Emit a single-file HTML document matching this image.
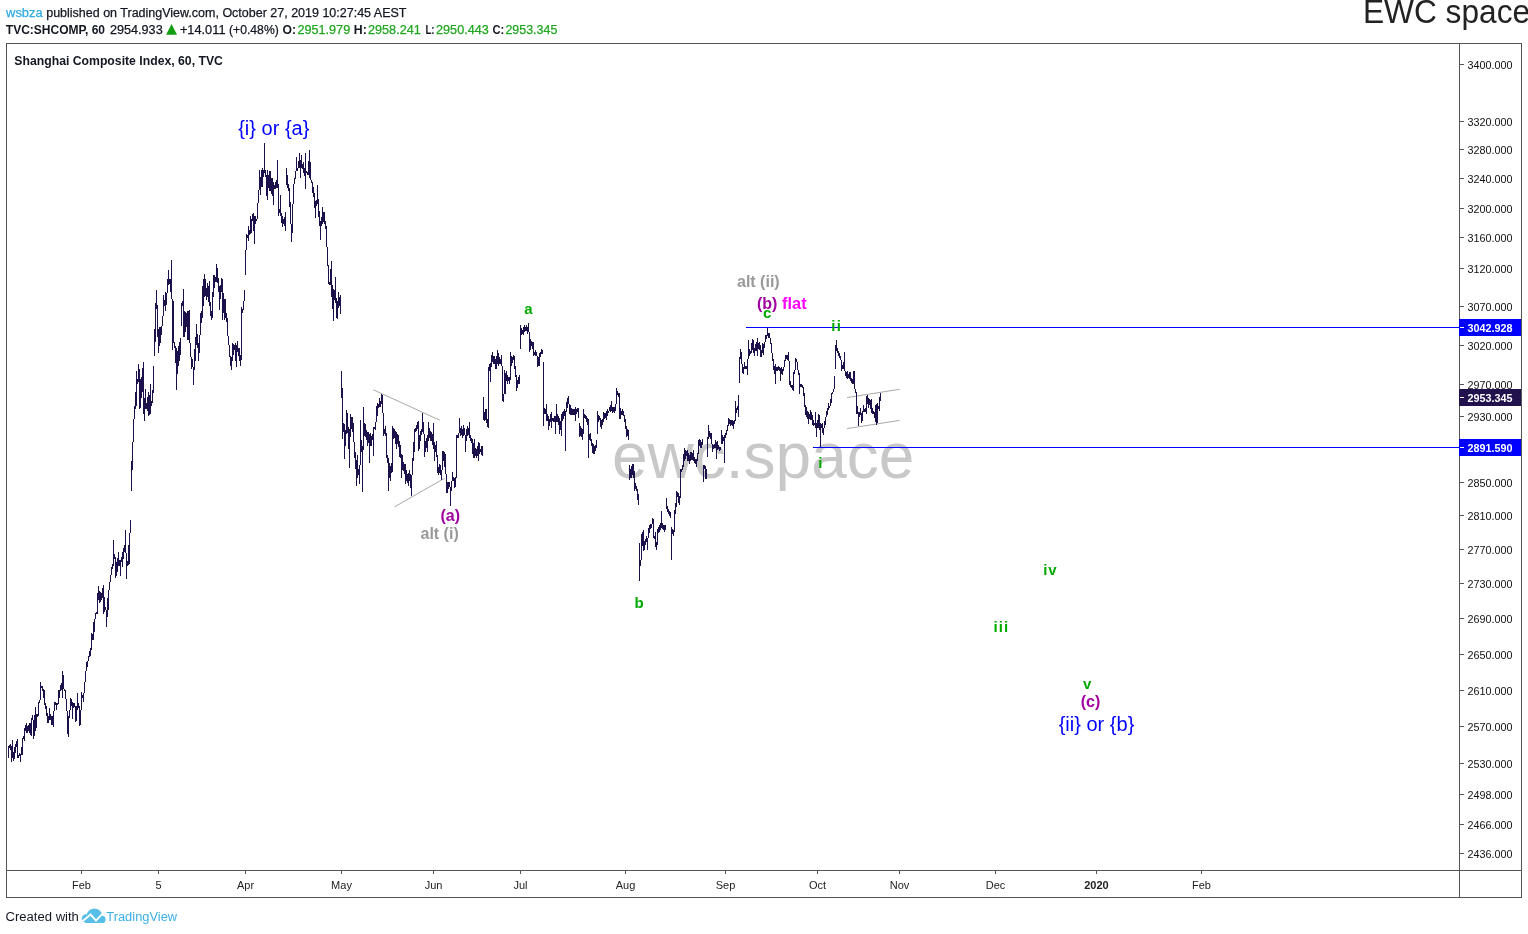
<!DOCTYPE html>
<html><head><meta charset="utf-8">
<style>
html,body{margin:0;padding:0;background:#fff;width:1528px;height:934px;overflow:hidden}
svg{position:absolute;left:0;top:0;font-family:"Liberation Sans",sans-serif;will-change:transform}
</style></head><body>
<svg width="1528" height="934" viewBox="0 0 1528 934">
<!-- header -->
<g font-size="12.5" fill="#131722" stroke="#131722" stroke-width="0.25">
<text x="6.1" y="16.9" stroke="#2eaae0" fill="#2eaae0" textLength="36.6" lengthAdjust="spacingAndGlyphs">wsbza</text>
<text x="46.2" y="16.9" textLength="360.3" lengthAdjust="spacingAndGlyphs">published on TradingView.com, October 27, 2019 10:27:45 AEST</text>
</g>
<g font-size="12.4" fill="#131722" stroke-width="0.25">
<text x="5.8" y="33.7" font-weight="bold" font-size="12.2" textLength="99.2" lengthAdjust="spacingAndGlyphs">TVC:SHCOMP, 60</text>
<text stroke="#131722" x="109.9" y="33.7" textLength="52.8" lengthAdjust="spacingAndGlyphs">2954.933</text>
<path d="M166.1 34.7L171.55 23.9L177 34.7Z" fill="#119e11"/>
<text stroke="#131722" x="179.9" y="33.7" textLength="45.6" lengthAdjust="spacingAndGlyphs">+14.011</text>
<text stroke="#131722" x="229" y="33.7" textLength="49.8" lengthAdjust="spacingAndGlyphs">(+0.48%)</text>
<text x="282.5" y="33.7" font-weight="bold" textLength="13.5" lengthAdjust="spacingAndGlyphs">O:</text>
<text stroke="#1fa61f" x="297.4" y="33.7" fill="#1fa61f" textLength="52.8" lengthAdjust="spacingAndGlyphs">2951.979</text>
<text x="353.8" y="33.7" font-weight="bold" textLength="13" lengthAdjust="spacingAndGlyphs">H:</text>
<text stroke="#1fa61f" x="368" y="33.7" fill="#1fa61f" textLength="52.8" lengthAdjust="spacingAndGlyphs">2958.241</text>
<text x="425.4" y="33.7" font-weight="bold" textLength="9.2" lengthAdjust="spacingAndGlyphs">L:</text>
<text stroke="#1fa61f" x="436.1" y="33.7" fill="#1fa61f" textLength="52.6" lengthAdjust="spacingAndGlyphs">2950.443</text>
<text x="492.5" y="33.7" font-weight="bold" textLength="11.8" lengthAdjust="spacingAndGlyphs">C:</text>
<text stroke="#1fa61f" x="505.4" y="33.7" fill="#1fa61f" textLength="52" lengthAdjust="spacingAndGlyphs" textLength="45" lengthAdjust="spacingAndGlyphs">2953.345</text>
</g>
<text transform="translate(1363,22.7) scale(0.945,1)" font-size="33.5" fill="#222">EWC space</text>

<!-- watermark -->
<text x="612" y="478.3" font-size="64" fill="#c8c8c8">ewc.space</text>

<!-- frame -->
<g stroke="#555" stroke-width="1" fill="none" shape-rendering="crispEdges">
<rect x="6.5" y="43.5" width="1515" height="854"/>
<path d="M1459.5 43V897M6 870.5H1521"/>
<path d="M1460 64.5H1464M1460 121.5H1464M1460 149.5H1464M1460 178.5H1464M1460 208.5H1464M1460 237.5H1464M1460 268.5H1464M1460 306.5H1464M1460 345.5H1464M1460 384.5H1464M1460 416.5H1464M1460 482.5H1464M1460 515.5H1464M1460 549.5H1464M1460 583.5H1464M1460 618.5H1464M1460 654.5H1464M1460 690.5H1464M1460 726.5H1464M1460 763.5H1464M1460 794.5H1464M1460 824.5H1464M1460 853.5H1464"/>
<path d="M81.5 871V874M158.5 871V874M245.5 871V874M341.5 871V874M433.5 871V874M520.5 871V874M625.5 871V874M725.5 871V874M817.5 871V874M899.5 871V874M995.5 871V874M1096.5 871V874M1201.5 871V874"/>
</g>
<text x="14.3" y="65.1" font-size="13" font-weight="bold" fill="#131722" textLength="208.6" lengthAdjust="spacingAndGlyphs">Shanghai Composite Index, 60, TVC</text>

<!-- price axis labels -->
<g font-size="11" fill="#111"><text x="1467.6" y="69.0" textLength="45" lengthAdjust="spacingAndGlyphs">3400.000</text><text x="1467.6" y="126.0" textLength="45" lengthAdjust="spacingAndGlyphs">3320.000</text><text x="1467.6" y="154.0" textLength="45" lengthAdjust="spacingAndGlyphs">3280.000</text><text x="1467.6" y="183.0" textLength="45" lengthAdjust="spacingAndGlyphs">3240.000</text><text x="1467.6" y="213.0" textLength="45" lengthAdjust="spacingAndGlyphs">3200.000</text><text x="1467.6" y="242.0" textLength="45" lengthAdjust="spacingAndGlyphs">3160.000</text><text x="1467.6" y="273.0" textLength="45" lengthAdjust="spacingAndGlyphs">3120.000</text><text x="1467.6" y="311.0" textLength="45" lengthAdjust="spacingAndGlyphs">3070.000</text><text x="1467.6" y="350.0" textLength="45" lengthAdjust="spacingAndGlyphs">3020.000</text><text x="1467.6" y="389.0" textLength="45" lengthAdjust="spacingAndGlyphs">2970.000</text><text x="1467.6" y="421.0" textLength="45" lengthAdjust="spacingAndGlyphs">2930.000</text><text x="1467.6" y="487.0" textLength="45" lengthAdjust="spacingAndGlyphs">2850.000</text><text x="1467.6" y="520.0" textLength="45" lengthAdjust="spacingAndGlyphs">2810.000</text><text x="1467.6" y="554.0" textLength="45" lengthAdjust="spacingAndGlyphs">2770.000</text><text x="1467.6" y="588.0" textLength="45" lengthAdjust="spacingAndGlyphs">2730.000</text><text x="1467.6" y="623.0" textLength="45" lengthAdjust="spacingAndGlyphs">2690.000</text><text x="1467.6" y="659.0" textLength="45" lengthAdjust="spacingAndGlyphs">2650.000</text><text x="1467.6" y="695.0" textLength="45" lengthAdjust="spacingAndGlyphs">2610.000</text><text x="1467.6" y="731.0" textLength="45" lengthAdjust="spacingAndGlyphs">2570.000</text><text x="1467.6" y="768.0" textLength="45" lengthAdjust="spacingAndGlyphs">2530.000</text><text x="1467.6" y="799.0" textLength="45" lengthAdjust="spacingAndGlyphs">2498.000</text><text x="1467.6" y="829.0" textLength="45" lengthAdjust="spacingAndGlyphs">2466.000</text><text x="1467.6" y="858.0" textLength="45" lengthAdjust="spacingAndGlyphs">2436.000</text></g>
<!-- time labels -->
<g font-size="11" fill="#222" text-anchor="middle"><text x="81.5" y="889">Feb</text><text x="158.5" y="889">5</text><text x="245.5" y="889">Apr</text><text x="341.5" y="889">May</text><text x="433.5" y="889">Jun</text><text x="520.5" y="889">Jul</text><text x="625.5" y="889">Aug</text><text x="725.5" y="889">Sep</text><text x="817.5" y="889">Oct</text><text x="899.5" y="889">Nov</text><text x="995.5" y="889">Dec</text><text x="1096.5" y="889" font-weight="bold">2020</text><text x="1201.5" y="889">Feb</text></g>

<!-- gray drawings -->
<g stroke="#a8a8a8" stroke-width="1" fill="none">
<path d="M373.4 389.8L439.8 420.2M394.6 506.8L444.7 478.2M847.1 397.6L899.6 389.3M847.1 428.6L899.6 420.4"/>
</g>

<!-- price -->
<path d="M8.5 746.2V757.5M9.5 744.6V747.8M10.5 743.6V749.5M11.5 746.2V762.3M12.5 740.3V757.5M13.5 752.1V760.7M14.5 746.8V758.6M15.5 744.1V752.7M16.5 741.4V746.8M17.5 739.3V757.5M18.5 754.8V757.5M19.5 753.2V756.4M20.5 753.7V761.8M21.5 747.3V754.8M22.5 738.2V754.8M23.5 735.5V738.7M24.5 728.0V741.4M25.5 725.4V730.7M26.5 723.2V733.4M27.5 725.9V733.4M28.5 725.4V730.7M29.5 723.2V733.4M30.5 723.2V735.0M31.5 718.0V735.5M32.5 715.0V720.0M33.5 720.0V738.7M34.5 714.8V735.6M35.5 707.0V731.0M36.5 713.9V728.4M37.5 713.9V717.3M38.5 701.9V716.4M39.5 700.1V702.7M40.5 682.1V700.1M41.5 685.6V688.1M42.5 686.4V690.7M43.5 689.0V697.6M44.5 689.9V705.3M45.5 702.7V708.7M46.5 706.1V715.6M47.5 713.0V723.3M48.5 716.4V723.3M49.5 707.9V719.9M50.5 713.9V719.9M51.5 716.4V725.0M52.5 716.4V725.0M53.5 711.3V726.7M54.5 701.9V711.3M55.5 701.9V705.3M56.5 702.7V709.6M57.5 702.7V705.3M58.5 689.9V703.6M59.5 689.9V697.6M60.5 684.7V690.7M61.5 683.0V689.9M62.5 671.0V698.4M63.5 675.3V689.0M64.5 689.0V690.7M65.5 689.9V699.3M66.5 699.3V710.5M67.5 710.5V733.6M68.5 715.6V737.0M69.5 709.6V718.1M70.5 697.6V709.6M71.5 699.3V706.1M72.5 701.9V719.0M73.5 702.7V707.9M74.5 702.7V707.0M75.5 706.1V721.6M76.5 706.1V720.7M77.5 693.3V709.6M78.5 702.7V707.9M79.5 706.1V725.9M80.5 709.5V725.0M81.5 692.0V709.5M82.5 694.5V697.5M83.5 693.0V702.0M84.5 681.5V693.0M85.5 671.2V681.5M86.5 662.0V671.2M87.5 661.0V666.7M88.5 655.5V661.0M89.5 651.1V657.0M90.5 648.0V655.5M91.5 632.6V649.5M92.5 633.8V640.0M93.5 622.0V640.0M94.5 618.8V631.5M95.5 613.0V618.8M96.5 612.0V613.5M97.5 593.0V614.0M98.5 586.0V600.0M99.5 591.0V603.0M100.5 592.0V601.5M101.5 593.0V600.0M102.5 588.0V598.0M103.5 584.6V614.0M104.5 597.4V611.7M105.5 607.0V610.0M106.5 610.0V627.0M107.5 598.3V617.1M108.5 590.0V610.0M109.5 582.0V590.0M110.5 575.0V582.0M111.5 567.0V575.0M112.5 564.0V569.0M113.5 540.0V566.0M114.5 554.0V559.0M115.5 557.0V578.0M116.5 562.0V576.0M117.5 557.7V571.7M118.5 552.0V566.0M119.5 560.0V566.0M120.5 560.0V576.0M121.5 557.0V562.0M122.5 552.0V567.0M123.5 548.2V558.8M124.5 545.0V552.0M125.5 530.0V553.0M126.5 553.0V578.6M127.5 560.6V566.0M128.5 544.8V564.9M129.5 533.0V564.0M130.5 520.0V533.0M131.5 461.0V491.0M132.5 441.5V470.0M133.5 419.0V441.5M134.5 406.0V419.0M135.5 392.0V409.0M136.5 371.0V406.0M137.5 379.0V384.0M138.5 364.0V382.0M139.5 369.0V409.0M140.5 379.0V408.0M141.5 377.0V398.0M142.5 368.0V392.0M143.5 362.0V414.0M144.5 398.0V421.0M145.5 388.5V409.0M146.5 403.0V409.0M147.5 396.6V411.0M148.5 392.0V416.0M149.5 395.3V414.9M150.5 384.0V414.0M151.5 401.0V406.0M152.5 390.0V403.0M153.5 366.0V393.0M154.5 329.0V356.0M155.5 303.0V342.0M156.5 290.0V309.0M157.5 305.0V337.0M158.5 329.0V353.0M159.5 327.0V346.0M160.5 327.0V343.0M161.5 325.5V335.0M162.5 316.0V325.5M163.5 295.0V316.0M164.5 300.0V306.0M165.5 292.0V311.0M166.5 292.5V305.0M167.5 279.0V292.5M168.5 270.0V285.0M169.5 279.0V284.0M170.5 279.0V292.0M171.5 260.0V299.0M172.5 299.0V350.0M173.5 301.0V343.0M174.5 342.0V348.0M175.5 346.0V362.5M176.5 348.0V390.0M177.5 350.7V374.4M178.5 346.0V366.0M179.5 342.3V360.7M180.5 338.0V354.5M181.5 303.0V325.5M182.5 301.0V306.0M183.5 288.6V337.0M184.5 311.0V337.0M185.5 311.8V332.4M186.5 312.7V327.0M187.5 311.0V340.0M188.5 311.0V340.0M189.5 309.5V343.0M190.5 343.0V357.0M191.5 357.0V369.0M192.5 359.0V366.5M193.5 366.5V385.0M194.5 348.5V370.2M195.5 337.0V361.0M196.5 324.0V345.0M197.5 333.6V348.0M198.5 343.0V361.0M199.5 334.5V353.0M200.5 313.0V334.5M201.5 311.2V323.4M202.5 286.0V318.0M203.5 279.3V306.1M204.5 273.7V297.0M205.5 279.0V296.0M206.5 287.6V300.0M207.5 283.0V297.0M208.5 286.0V301.5M209.5 280.6V305.7M210.5 301.5V315.5M211.5 311.0V319.6M212.5 292.0V318.0M213.5 275.0V297.0M214.5 275.0V287.6M215.5 276.5V282.0M216.5 264.0V282.0M217.5 268.0V283.0M218.5 278.0V292.0M219.5 286.0V310.0M220.5 285.0V299.0M221.5 278.0V292.0M222.5 279.0V319.6M223.5 293.0V312.7M224.5 298.7V319.6M225.5 298.7V318.0M226.5 312.7V322.0M227.5 318.0V336.0M228.5 336.0V344.7M229.5 344.7V357.0M230.5 356.0V365.6M231.5 357.0V370.0M232.5 343.0V361.0M233.5 343.9V355.0M234.5 344.7V350.0M235.5 343.0V361.0M236.5 344.7V367.0M237.5 340.5V351.7M238.5 347.5V356.0M239.5 347.5V361.0M240.5 354.5V365.6M241.5 307.0V360.0M242.5 308.5V312.7M243.5 301.0V310.0M244.5 290.0V301.0M245.5 249.5V275.0M246.5 234.0V249.5M247.5 235.0V238.0M248.5 225.5V241.0M249.5 229.7V235.0M250.5 216.0V234.0M251.5 218.6V232.5M252.5 214.0V221.0M253.5 213.0V231.0M254.5 216.0V243.6M255.5 216.0V224.0M256.5 218.6V221.0M257.5 203.0V218.6M258.5 190.0V203.0M259.5 170.0V190.0M260.5 177.0V195.0M261.5 170.0V186.5M262.5 168.0V186.5M263.5 170.0V177.0M264.5 143.0V172.6M265.5 170.0V177.0M266.5 175.0V196.0M267.5 170.0V200.0M268.5 175.0V188.0M269.5 171.0V190.7M270.5 171.0V190.7M271.5 177.5V193.6M272.5 178.0V196.0M273.5 182.0V204.6M274.5 185.0V189.0M275.5 182.0V189.0M276.5 179.6V188.0M277.5 160.0V188.0M278.5 184.0V216.0M279.5 209.0V213.0M280.5 195.0V216.0M281.5 213.0V222.7M282.5 216.0V227.0M283.5 218.6V224.0M284.5 217.0V225.5M285.5 211.6V231.0M286.5 168.0V185.0M287.5 175.0V188.0M288.5 184.0V190.7M289.5 188.0V207.0M290.5 202.0V224.0M291.5 224.0V242.0M292.5 203.8V232.5M293.5 184.2V203.8M294.5 177.6V184.2M295.5 170.6V179.0M296.5 156.7V170.6M297.5 168.0V170.6M298.5 161.0V168.0M299.5 153.0V168.0M300.5 159.5V177.6M301.5 155.0V168.0M302.5 163.7V169.0M303.5 162.0V173.0M304.5 168.0V176.0M305.5 153.0V189.0M306.5 170.6V173.0M307.5 172.0V175.0M308.5 161.0V175.0M309.5 150.0V177.6M310.5 162.0V180.0M311.5 180.0V183.0M312.5 181.8V193.0M313.5 187.0V197.0M314.5 193.0V208.0M315.5 201.0V218.0M316.5 200.0V205.5M317.5 184.6V204.0M318.5 198.5V216.6M319.5 211.0V226.0M320.5 220.8V240.0M321.5 216.6V226.0M322.5 207.0V223.6M323.5 212.4V222.0M324.5 212.4V223.6M325.5 220.8V229.0M326.5 226.0V246.5M327.5 246.5V266.0M328.5 264.5V283.7M329.5 282.0V285.0M330.5 269.0V285.0M331.5 261.0V296.6M332.5 285.0V309.4M333.5 288.6V320.7M334.5 290.0V300.0M335.5 277.0V303.0M336.5 298.0V317.5M337.5 301.4V319.0M338.5 291.8V307.8M339.5 296.6V306.0M340.5 295.0V314.0M341.5 370.8V398.0M342.5 388.0V438.7M343.5 423.0V431.5M344.5 424.0V459.0M345.5 430.0V446.0M346.5 410.0V434.4M347.5 412.7V433.0M348.5 427.0V449.0M349.5 428.6V467.6M350.5 414.0V437.0M351.5 417.0V428.6M352.5 417.0V431.5M353.5 423.0V441.7M354.5 441.7V457.5M355.5 451.7V469.0M356.5 460.0V486.4M357.5 454.6V477.8M358.5 469.0V475.0M359.5 464.8V483.5M360.5 420.0V464.8M361.5 440.0V451.7M362.5 446.0V492.0M363.5 407.0V450.0M364.5 423.0V435.8M365.5 424.0V437.0M366.5 430.0V440.0M367.5 431.5V446.0M368.5 431.5V443.0M369.5 434.4V463.0M370.5 433.0V446.0M371.5 436.0V446.0M372.5 434.4V440.0M373.5 427.0V456.0M374.5 427.0V428.6M375.5 422.0V430.0M376.5 405.5V422.0M377.5 402.6V415.6M378.5 404.0V408.0M379.5 398.0V407.0M380.5 401.0V407.0M381.5 394.0V404.0M382.5 395.0V412.7M383.5 412.7V436.0M384.5 428.6V434.4M385.5 425.7V436.0M386.5 433.0V457.5M387.5 454.6V463.0M388.5 457.5V490.8M389.5 463.0V477.8M390.5 466.0V480.7M391.5 463.0V473.0M392.5 425.7V472.0M393.5 427.7V439.3M394.5 429.0V437.8M395.5 430.6V443.6M396.5 432.0V449.4M397.5 433.5V443.6M398.5 435.0V446.5M399.5 440.7V456.6M400.5 445.0V458.0M401.5 453.7V478.3M402.5 455.0V469.6M403.5 462.4V471.0M404.5 463.9V474.0M405.5 463.9V484.0M406.5 469.6V481.2M407.5 474.0V482.6M408.5 472.5V485.5M409.5 469.6V481.2M410.5 474.0V488.4M411.5 475.4V495.7M412.5 458.0V475.4M413.5 442.0V461.0M414.5 429.0V452.3M415.5 427.7V432.0M416.5 424.8V430.6M417.5 422.0V429.0M418.5 420.5V450.8M419.5 435.0V449.4M420.5 430.6V440.7M421.5 429.0V435.0M422.5 412.5V432.0M423.5 422.0V434.2M424.5 434.2V456.6M425.5 440.7V452.3M426.5 437.8V448.0M427.5 435.0V452.3M428.5 422.0V440.7M429.5 427.7V437.8M430.5 430.6V440.7M431.5 432.0V440.7M432.5 433.5V445.0M433.5 423.4V449.4M434.5 442.0V461.0M435.5 445.0V452.3M436.5 440.7V456.6M437.5 455.0V472.5M438.5 466.7V475.4M439.5 463.9V472.5M440.5 465.3V475.4M441.5 469.6V479.8M442.5 450.8V469.6M443.5 450.8V461.0M444.5 452.3V466.7M445.5 453.5V473.8M446.5 473.8V492.5M447.5 482.4V492.5M448.5 482.4V489.3M449.5 482.4V486.7M450.5 486.7V505.5M451.5 481.0V491.0M452.5 472.3V481.0M453.5 476.6V481.0M454.5 478.0V488.0M455.5 476.6V486.7M456.5 434.7V478.0M457.5 434.7V437.6M458.5 433.3V437.6M459.5 418.0V433.3M460.5 427.5V436.0M461.5 426.0V434.7M462.5 429.0V437.6M463.5 424.6V436.0M464.5 427.5V435.4M465.5 435.4V452.0M466.5 429.0V440.5M467.5 426.0V436.0M468.5 427.5V434.7M469.5 421.7V437.6M470.5 434.7V440.5M471.5 437.6V443.4M472.5 439.0V453.5M473.5 443.4V457.8M474.5 439.0V457.8M475.5 447.7V456.4M476.5 449.0V457.8M477.5 446.3V456.4M478.5 442.0V460.7M479.5 443.4V453.5M480.5 449.0V452.0M481.5 446.3V455.0M482.5 446.3V456.4M483.5 397.0V420.0M484.5 411.6V421.4M485.5 408.8V420.0M486.5 408.8V422.8M487.5 418.6V427.0M488.5 367.0V428.3M489.5 364.3V371.3M490.5 363.0V382.4M491.5 354.5V367.0M492.5 351.8V361.5M493.5 356.0V364.3M494.5 356.0V364.3M495.5 358.7V368.5M496.5 356.0V368.5M497.5 350.4V364.3M498.5 353.0V365.7M499.5 357.3V364.3M500.5 358.7V364.3M501.5 354.5V366.4M502.5 366.4V400.5M503.5 394.1V402.0M504.5 370.0V394.1M505.5 372.6V393.5M506.5 371.3V381.0M507.5 375.4V383.8M508.5 376.8V381.0M509.5 376.8V383.8M510.5 351.8V379.6M511.5 356.0V365.7M512.5 357.3V363.0M513.5 354.5V360.0M514.5 356.0V368.5M515.5 365.7V376.8M516.5 375.4V390.7M517.5 379.6V388.0M518.5 376.8V383.8M519.5 375.4V383.8M520.5 325.3V349.0M521.5 328.0V335.0M522.5 329.5V333.7M523.5 326.7V335.0M524.5 325.3V332.3M525.5 326.7V331.0M526.5 325.3V331.0M527.5 326.7V333.7M528.5 323.0V331.5M529.5 331.5V351.8M530.5 339.2V350.4M531.5 340.6V346.2M532.5 342.0V349.0M533.5 342.0V356.0M534.5 351.8V354.5M535.5 350.4V356.0M536.5 351.8V356.0M537.5 356.0V367.0M538.5 357.3V365.7M539.5 353.0V365.7M540.5 352.3V356.5M541.5 348.8V354.4M542.5 349.5V353.7M543.5 362.0V426.0M544.5 408.0V413.5M545.5 409.4V413.5M546.5 403.8V420.5M547.5 413.5V420.5M548.5 416.3V430.2M549.5 419.0V426.0M550.5 413.5V421.9M551.5 412.0V427.5M552.5 417.7V420.5M553.5 417.7V421.9M554.5 416.3V421.9M555.5 416.3V434.4M556.5 403.8V421.9M557.5 413.5V421.9M558.5 416.3V424.7M559.5 417.7V434.4M560.5 420.5V430.2M561.5 413.5V435.8M562.5 412.0V420.5M563.5 410.7V419.0M564.5 409.4V416.3M565.5 410.7V451.0M566.5 402.4V412.0M567.5 398.2V408.0M568.5 396.0V403.8M569.5 403.8V413.5M570.5 405.2V415.0M571.5 408.0V415.0M572.5 409.4V415.0M573.5 409.4V415.0M574.5 409.4V415.0M575.5 406.6V420.5M576.5 409.4V413.5M577.5 408.0V412.0M578.5 408.0V417.7M579.5 423.3V437.2M580.5 426.0V435.8M581.5 427.5V437.2M582.5 428.8V440.0M583.5 409.4V434.4M584.5 413.5V417.7M585.5 415.0V419.0M586.5 416.3V421.9M587.5 417.7V424.7M588.5 419.0V458.0M589.5 434.4V440.0M590.5 433.0V441.4M591.5 438.6V445.6M592.5 442.8V452.5M593.5 444.0V454.0M594.5 445.6V454.0M595.5 445.4V451.0M596.5 439.9V448.2M597.5 411.3V434.3M598.5 414.8V421.8M599.5 416.2V420.4M600.5 417.6V427.3M601.5 420.4V428.7M602.5 419.0V424.5M603.5 412.0V421.8M604.5 413.4V419.0M605.5 413.4V417.6M606.5 410.6V420.4M607.5 409.2V416.2M608.5 410.6V413.4M609.5 406.5V410.6M610.5 405.0V412.0M611.5 400.9V410.6M612.5 406.5V413.4M613.5 406.5V412.0M614.5 406.5V413.4M615.5 404.4V410.6M616.5 388.4V404.4M617.5 391.0V395.3M618.5 392.5V396.7M619.5 392.5V419.0M620.5 407.8V419.0M621.5 410.6V414.8M622.5 409.2V414.8M623.5 410.6V416.2M624.5 414.8V421.8M625.5 419.0V428.7M626.5 426.0V437.0M627.5 428.7V435.7M628.5 430.0V440.0M629.5 465.0V480.2M630.5 469.0V477.5M631.5 466.3V477.5M632.5 463.5V474.7M633.5 463.5V477.5M634.5 470.5V491.4M635.5 483.0V488.6M636.5 485.8V491.4M637.5 488.6V499.7M638.5 494.0V505.3M639.5 543.0V580.5M640.5 560.0V566.4M641.5 534.0V560.0M642.5 531.7V545.8M643.5 530.4V551.0M644.5 540.7V549.7M645.5 539.4V544.5M646.5 535.5V542.0M647.5 538.1V549.7M648.5 527.8V538.1M649.5 525.2V533.0M650.5 524.0V529.0M651.5 524.0V527.8M652.5 517.5V524.0M653.5 518.8V538.0M654.5 535.5V539.4M655.5 531.7V547.0M656.5 542.0V549.7M657.5 529.0V544.5M658.5 526.5V533.0M659.5 525.2V531.7M660.5 522.7V530.4M661.5 511.0V527.8M662.5 522.7V529.0M663.5 525.2V530.4M664.5 525.2V531.7M665.5 525.2V530.4M666.5 498.3V508.5M667.5 506.0V512.4M668.5 508.5V513.7M669.5 511.0V516.3M670.5 512.4V517.5M671.5 526.5V560.0M672.5 529.0V534.2M673.5 530.4V535.5M674.5 509.8V531.7M675.5 503.4V513.7M676.5 490.6V507.3M677.5 491.8V497.0M678.5 493.1V503.4M679.5 495.7V504.7M680.5 469.0V498.0M681.5 469.0V472.4M682.5 465.0V470.3M683.5 454.2V467.0M684.5 447.8V460.6M685.5 450.0V458.5M686.5 451.0V456.4M687.5 450.0V460.6M688.5 453.2V460.6M689.5 455.3V463.9M690.5 452.0V460.6M691.5 452.0V459.6M692.5 453.2V459.6M693.5 450.0V460.6M694.5 457.4V462.8M695.5 458.5V463.9M696.5 458.5V467.0M697.5 453.2V460.6M698.5 440.3V454.2M699.5 439.2V445.7M700.5 440.3V447.8M701.5 442.4V447.8M702.5 439.2V444.6M703.5 465.0V482.0M704.5 465.0V469.2M705.5 466.0V478.8M706.5 469.2V478.8M707.5 437.0V457.4M708.5 425.3V439.2M709.5 430.7V437.0M710.5 432.8V439.2M711.5 432.8V443.5M712.5 443.5V452.0M713.5 444.6V448.9M714.5 443.5V447.8M715.5 440.3V447.8M716.5 442.4V458.5M717.5 441.4V450.0M718.5 444.6V448.9M719.5 446.7V451.0M720.5 446.7V450.0M721.5 429.6V443.5M722.5 435.0V443.5M723.5 437.0V441.4M724.5 435.0V462.8M725.5 432.8V438.2M726.5 429.6V435.0M727.5 425.3V430.7M728.5 417.8V426.4M729.5 418.9V424.2M730.5 420.0V426.4M731.5 420.0V425.3M732.5 420.0V426.4M733.5 421.0V428.5M734.5 420.0V424.2M735.5 400.7V421.0M736.5 408.2V412.5M737.5 406.0V410.3M738.5 394.8V416.8M739.5 357.0V382.8M740.5 348.5V359.2M741.5 351.7V364.1M742.5 364.1V373.1M743.5 366.7V374.2M744.5 362.4V368.9M745.5 365.7V368.9M746.5 365.7V368.9M747.5 359.2V375.3M748.5 340.0V359.2M749.5 348.5V356.0M750.5 350.7V353.9M751.5 343.2V352.8M752.5 338.9V349.6M753.5 340.0V352.8M754.5 347.5V356.0M755.5 344.3V350.7M756.5 342.1V350.7M757.5 337.8V356.0M758.5 343.2V348.5M759.5 342.1V349.6M760.5 345.3V357.0M761.5 349.6V357.0M762.5 343.2V352.8M763.5 344.3V355.0M764.5 341.6V347.5M765.5 334.6V341.6M766.5 334.6V338.9M767.5 327.7V335.7M768.5 332.5V337.8M769.5 332.5V337.8M770.5 337.8V344.3M771.5 343.2V352.8M772.5 352.8V361.4M773.5 359.2V370.0M774.5 365.7V374.2M775.5 363.5V383.9M776.5 366.7V371.0M777.5 366.7V371.0M778.5 365.7V370.0M779.5 366.7V371.0M780.5 367.8V380.6M781.5 366.7V374.2M782.5 368.9V375.3M783.5 366.7V371.0M784.5 360.3V366.7M785.5 355.0V361.4M786.5 355.0V359.2M787.5 355.0V360.3M788.5 351.7V361.4M789.5 361.4V385.0M790.5 380.6V387.0M791.5 385.0V388.1M792.5 385.0V390.3M793.5 372.1V391.3M794.5 370.0V374.2M795.5 358.2V370.0M796.5 359.2V362.4M797.5 362.4V370.0M798.5 370.0V375.3M799.5 373.1V393.5M800.5 383.9V387.0M801.5 383.9V387.0M802.5 385.0V388.1M803.5 387.0V395.6M804.5 393.0V407.0M805.5 404.5V414.8M806.5 407.0V417.3M807.5 411.0V418.6M808.5 412.2V423.8M809.5 413.5V418.6M810.5 409.6V420.0M811.5 412.2V420.0M812.5 414.8V425.0M813.5 420.0V426.3M814.5 422.5V425.0M815.5 412.2V427.6M816.5 422.5V436.6M817.5 420.0V427.6M818.5 413.5V427.6M819.5 414.8V430.2M820.5 422.5V446.9M821.5 423.8V427.6M822.5 422.5V432.7M823.5 427.6V435.3M824.5 421.2V427.6M825.5 417.3V425.0M826.5 411.0V417.3M827.5 408.3V414.8M828.5 403.2V409.6M829.5 405.8V408.3M830.5 399.4V405.8M831.5 393.0V403.2M832.5 391.6V394.2M833.5 389.0V391.6M834.5 376.2V389.0M835.5 345.4V368.5M836.5 340.3V350.5M837.5 348.0V353.0M838.5 350.5V355.7M839.5 353.0V358.3M840.5 355.7V359.5M841.5 359.5V371.1M842.5 364.7V368.5M843.5 362.1V368.5M844.5 351.8V370.5M845.5 370.5V376.2M846.5 372.4V377.5M847.5 371.1V378.8M848.5 373.7V377.5M849.5 372.4V378.8M850.5 372.4V381.4M851.5 377.5V382.7M852.5 378.8V383.9M853.5 371.1V383.9M854.5 371.1V389.0M855.5 388.7V393.2M856.5 391.7V413.5M857.5 406.0V413.5M858.5 412.0V426.2M859.5 412.0V416.5M860.5 408.2V415.0M861.5 412.7V422.5M862.5 410.5V421.0M863.5 404.5V412.0M864.5 409.0V412.0M865.5 407.5V412.0M866.5 396.2V413.5M867.5 394.7V403.7M868.5 397.7V407.5M869.5 398.5V404.5M870.5 400.0V409.0M871.5 398.5V412.7M872.5 407.5V413.5M873.5 410.5V414.2M874.5 412.0V418.0M875.5 405.2V421.7M876.5 403.7V424.7M877.5 403.0V422.5M878.5 406.0V409.0M879.5 397.0V411.2M880.5 392.5V400.7" stroke="#1c114a" stroke-width="1" fill="none" shape-rendering="crispEdges"/>

<!-- horizontal lines -->
<g stroke="#0000ff" stroke-width="1" shape-rendering="crispEdges">
<path d="M746 327.5H1459M813 447.5H1459"/>
</g>

<!-- price boxes -->
<rect x="1459" y="319" width="62" height="17" fill="#0000ff"/>
<rect x="1459" y="389" width="62" height="17" fill="#21124d"/>
<rect x="1459" y="439" width="62" height="17" fill="#0000ff"/>
<path d="M1460 327.5H1464M1460 397.5H1464M1460 447.5H1464" stroke="#fff" stroke-width="1" shape-rendering="crispEdges"/>
<g font-size="11" font-weight="bold" fill="#fff">
<text x="1467.5" y="331.5" textLength="45" lengthAdjust="spacingAndGlyphs">3042.928</text>
<text x="1467.5" y="401.5" textLength="45" lengthAdjust="spacingAndGlyphs">2953.345</text>
<text x="1467.5" y="451.5" textLength="45" lengthAdjust="spacingAndGlyphs">2891.590</text>
</g>

<!-- labels -->
<text x="238.2" y="134.8" font-size="20" fill="#0000ff">{i} or {a}</text>
<text x="1058.7" y="731" font-size="20" fill="#0000ff">{ii} or {b}</text>
<g font-size="16" font-weight="bold">
<text x="737" y="286.7" fill="#999">alt (ii)</text>
<text x="420.5" y="538.6" fill="#999">alt (i)</text>
<text x="757" y="308.5" fill="#a000a0">(b)</text>
<text x="782" y="308.7" fill="#ff00ff" textLength="24.6" lengthAdjust="spacingAndGlyphs">flat</text>
<text x="440.5" y="521" fill="#a000a0">(a)</text>
<text x="1080.7" y="707.2" fill="#a000a0">(c)</text>
</g>
<g font-size="15" font-weight="bold" fill="#00aa00">
<text x="524.3" y="314.2">a</text>
<text x="634.5" y="607.8">b</text>
<text x="762.9" y="317.8">c</text>
<text x="831.3" y="331" letter-spacing="1.2">ii</text>
<text x="818.2" y="468">i</text>
<text x="993.6" y="632" letter-spacing="1">iii</text>
<text x="1043.2" y="575.2" letter-spacing="1">iv</text>
<text x="1083" y="688.9">v</text>
</g>

<!-- footer -->
<text x="5.5" y="920.5" font-size="12.5" fill="#131722" textLength="73.4" lengthAdjust="spacingAndGlyphs">Created with</text>
<g fill="#58c0e8">
<circle cx="86" cy="918.4" r="4.2"/>
<ellipse cx="94.4" cy="915" rx="7.5" ry="6.4"/>
<circle cx="102" cy="919.4" r="3.6"/>
<rect x="85" y="917" width="18" height="6"/>
</g>
<path d="M80 923.3L90.6 914.6L96 920.6L104.5 911.5" stroke="#fff" stroke-width="1.8" fill="none" stroke-linejoin="miter"/>
<text x="106.3" y="920.5" font-size="12.5" fill="#3bb0e4" textLength="70.8" lengthAdjust="spacingAndGlyphs">TradingView</text>
</svg>
</body></html>
